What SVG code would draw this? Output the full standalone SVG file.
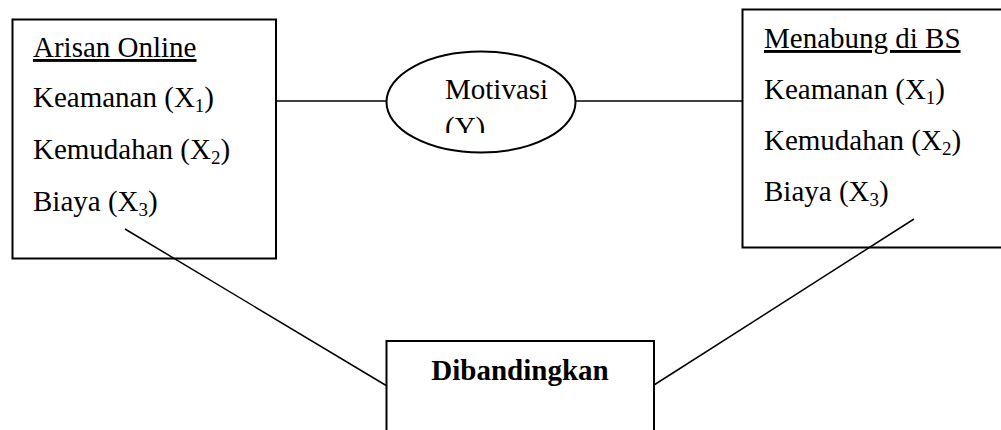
<svg xmlns="http://www.w3.org/2000/svg" width="1001" height="430" viewBox="0 0 1001 430">
<style>
.box{fill:#fff;stroke:#000;stroke-width:2}
.ln{stroke:#000;stroke-width:1.5;fill:none}
.t{font-family:"Liberation Serif","Times New Roman",serif;font-size:29px;fill:#000}
.b{font-weight:bold}
.u{text-decoration:underline}
.sub{font-size:19px}
</style>
<defs>
<clipPath id="clipM"><rect x="430" y="60" width="140" height="73"/></clipPath>
</defs>
<g id="node-arisan">
<rect class="box" x="12.5" y="19.5" width="263.5" height="239"/>
<text class="t u" x="33" y="57">Arisan Online</text>
<text class="t" x="33" y="107">Keamanan (X<tspan class="sub" dy="5">1</tspan><tspan dy="-5">)</tspan></text>
<text class="t" x="33" y="159">Kemudahan (X<tspan class="sub" dy="5">2</tspan><tspan dy="-5">)</tspan></text>
<text class="t" x="33" y="211">Biaya (X<tspan class="sub" dy="5">3</tspan><tspan dy="-5">)</tspan></text>
</g>
<g id="node-motivasi">
<ellipse class="box" cx="481" cy="102" rx="94.5" ry="50.5"/>
<g clip-path="url(#clipM)">
<text class="t" x="445" y="99">Motivasi</text>
<text class="t" x="445" y="137">(Y)</text>
</g>
</g>
<g id="node-menabung">
<rect class="box" x="742.5" y="9.5" width="270" height="238"/>
<text class="t u" x="764" y="48">Menabung di BS</text>
<text class="t" x="764" y="99">Keamanan (X<tspan class="sub" dy="5">1</tspan><tspan dy="-5">)</tspan></text>
<text class="t" x="764" y="150">Kemudahan (X<tspan class="sub" dy="5">2</tspan><tspan dy="-5">)</tspan></text>
<text class="t" x="764" y="201">Biaya (X<tspan class="sub" dy="5">3</tspan><tspan dy="-5">)</tspan></text>
</g>
<g id="node-dibandingkan">
<rect class="box" x="386.5" y="341" width="267.5" height="100"/>
<text class="t b" x="520" y="380" text-anchor="middle">Dibandingkan</text>
</g>
<g id="connectors">
<line class="ln" x1="276" y1="101" x2="387" y2="101"/>
<line class="ln" x1="575" y1="101" x2="742" y2="101"/>
<line class="ln" x1="125" y1="229" x2="387" y2="386"/>
<line class="ln" x1="654" y1="385" x2="914" y2="219"/>
</g>
</svg>
